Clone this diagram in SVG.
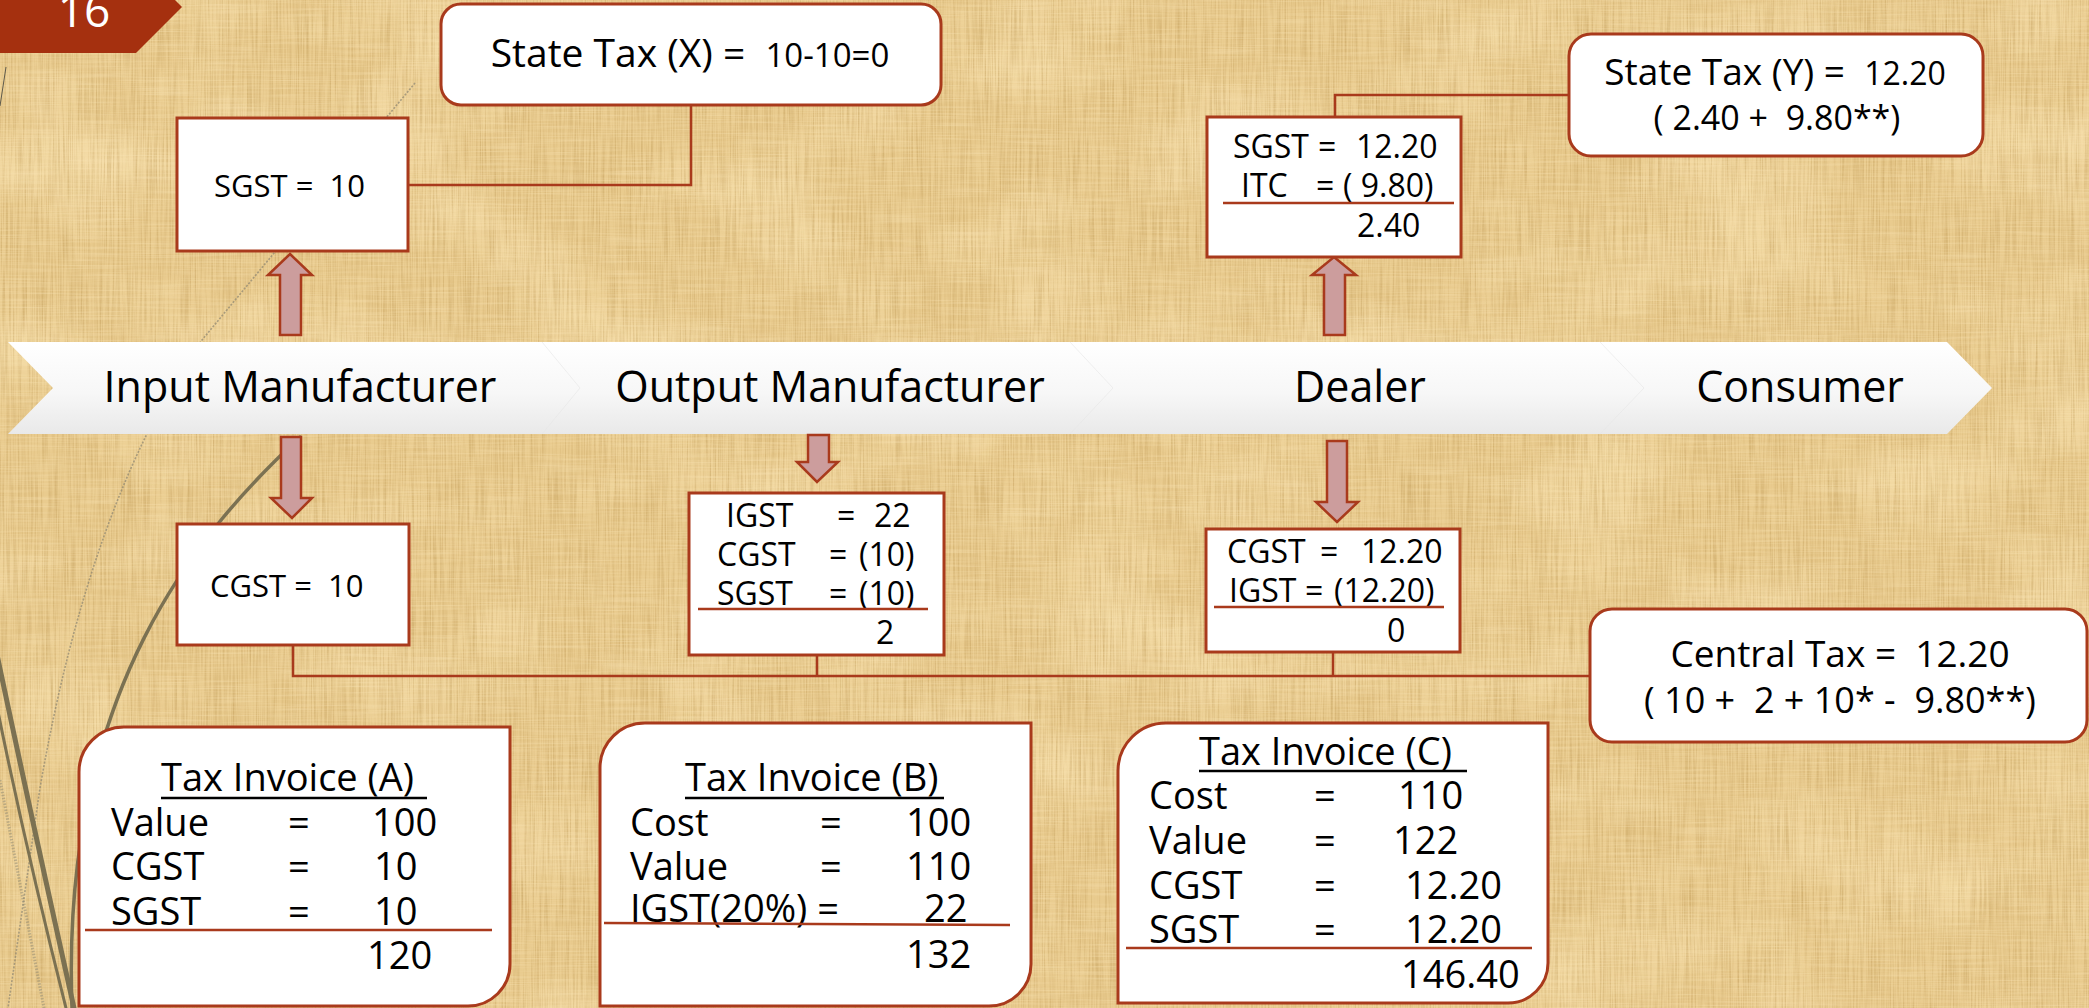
<svg xmlns="http://www.w3.org/2000/svg" width="2089" height="1008" viewBox="0 0 2089 1008" xml:space="preserve">
  <defs>
    <style>
      .t { font-family: "Open Sans", "Liberation Sans", sans-serif; fill: #000; white-space: pre; }
      .box { fill: #fff; stroke: #A93A1C; stroke-width: 3; }
      .conn { fill: none; stroke: #A93A1C; stroke-width: 2.5; }
      .rule { stroke: #A93A1C; stroke-width: 2.5; }
      .uline { stroke: #000; stroke-width: 2.5; }
      .arrow { fill: #CC9D9D; stroke: #A93A1C; stroke-width: 2.5; stroke-linejoin: miter; }
      .sep { fill: none; stroke: #E6E6E6; stroke-width: 1; opacity: 0.6; }
      .wisp { fill: none; stroke: #7B7152; stroke-linecap: round; }
    </style>
    <linearGradient id="bannerFill" x1="0" y1="0" x2="0" y2="1">
      <stop offset="0" stop-color="#FFFFFF"/>
      <stop offset="0.55" stop-color="#F7F7F7"/>
      <stop offset="1" stop-color="#E9E9E9"/>
    </linearGradient>
    <!-- woven papyrus texture: vertical and horizontal fibres plus soft blotches -->
    <filter id="fibreV" x="0" y="0" width="100%" height="100%" color-interpolation-filters="sRGB">
      <feTurbulence type="fractalNoise" baseFrequency="0.6 0.015" numOctaves="2" seed="4"/>
      <feColorMatrix type="matrix" values="0 0 0 0 0.66  0 0 0 0 0.50  0 0 0 0 0.22  1.6 0 0 0 -0.64"/>
    </filter>
    <filter id="fibreH" x="0" y="0" width="100%" height="100%" color-interpolation-filters="sRGB">
      <feTurbulence type="fractalNoise" baseFrequency="0.015 0.6" numOctaves="2" seed="9"/>
      <feColorMatrix type="matrix" values="0 0 0 0 0.98  0 0 0 0 0.90  0 0 0 0 0.72  1.6 0 0 0 -0.62"/>
    </filter>
    <filter id="blotch" x="0" y="0" width="100%" height="100%" color-interpolation-filters="sRGB">
      <feTurbulence type="fractalNoise" baseFrequency="0.006 0.01" numOctaves="3" seed="2"/>
      <feColorMatrix type="matrix" values="0 0 0 0 0.97  0 0 0 0 0.88  0 0 0 0 0.68  2.2 0 0 0 -0.95"/>
    </filter>
  </defs>

  <!-- background -->
  <g id="background">
    <rect width="2089" height="1008" fill="#E9CB8E"/>
    <rect width="2089" height="1008" filter="url(#blotch)" opacity="0.8"/>
    <rect width="2089" height="1008" filter="url(#fibreV)" opacity="0.45"/>
    <rect width="2089" height="1008" filter="url(#fibreH)" opacity="0.5"/>
  </g>

  <!-- decorative wisps at the left edge -->
  <g id="wisps">
    <path d="M6,67 L0,106" fill="none" stroke="#5E5A4C" stroke-width="1"/>
    <path d="M415,83 L202,340 Q90,500 40,788 L8,1008" fill="none" stroke="#8C8570" stroke-width="1.6" stroke-dasharray="2 1.5" opacity="0.7"/>
    <path class="wisp" d="M300,437 C200,530 60,690 72,1008" stroke-width="3.5"/>
    <path class="wisp" d="M-4,650 Q32,820 74,1008" stroke-width="5"/>
    <path class="wisp" d="M-4,702 Q26,850 66,1008" stroke-width="3"/>
    <path d="M0,780 L44,1008" fill="none" stroke="#8C8570" stroke-width="3" stroke-dasharray="1.5 1.5" opacity="0.5"/>
  </g>

  <!-- slide number badge -->
  <g id="badge">
    <polygon points="0,-39 136,-39 182,7 136,53 0,53" fill="#A5300F"/>
    <text class="t" x="84" y="27" font-size="46" text-anchor="middle" style="fill:#fff">16</text>
  </g>

  <!-- supply chain banner -->
  <g id="banner">
    <polygon points="8,342 1947,342 1992,388 1947,434 8,434 53,388" fill="url(#bannerFill)"/>
    <polyline class="sep" points="542,342 580,388 542,434"/>
    <polyline class="sep" points="1070,342 1113,388 1070,434"/>
    <polyline class="sep" points="1600,342 1644,388 1600,434"/>
    <text class="t" x="300" y="402" font-size="43" text-anchor="middle">Input Manufacturer</text>
    <text class="t" x="830" y="402" font-size="43" text-anchor="middle">Output Manufacturer</text>
    <text class="t" x="1360" y="402" font-size="43" text-anchor="middle">Dealer</text>
    <text class="t" x="1800" y="402" font-size="43" text-anchor="middle">Consumer</text>
  </g>

  <!-- connectors -->
  <g id="connectors">
    <polyline class="conn" points="408,185 691,185 691,105"/>
    <polyline class="conn" points="1335,117 1335,95 1569,95"/>
    <polyline class="conn" points="293,645 293,676 1590,676"/>
    <line class="conn" x1="817" y1="655" x2="817" y2="676"/>
    <line class="conn" x1="1333" y1="652" x2="1333" y2="676"/>
  </g>

  <!-- block arrows between banner and tax boxes -->
  <g id="arrows">
    <polygon class="arrow" points="290,254 312,275 301,275 301,335 280,335 280,275 268,275"/>
    <polygon class="arrow" points="1334,257 1356,275 1345,275 1345,335 1324,335 1324,275 1312,275"/>
    <polygon class="arrow" points="281,437 301,437 301,498 312,498 292,518 271,498 281,498"/>
    <polygon class="arrow" points="808,435 829,435 829,462 838,462 817,482 797,462 808,462"/>
    <polygon class="arrow" points="1327,441 1347,441 1347,502 1358,502 1337,522 1316,502 1327,502"/>
  </g>

  <!-- state tax summary (X) -->
  <g id="state-tax-x">
    <rect class="box" x="441" y="4" width="500" height="101" rx="20"/>
    <text class="t" x="690" y="67" font-size="39" text-anchor="middle">State Tax (X) =  <tspan font-size="33">10-10=0</tspan></text>
  </g>

  <!-- input manufacturer SGST -->
  <g id="input-sgst">
    <rect class="box" x="177" y="118" width="231" height="133"/>
    <text class="t" x="214" y="197" font-size="31">SGST =  10</text>
  </g>

  <!-- input manufacturer CGST -->
  <g id="input-cgst">
    <rect class="box" x="177" y="524" width="232" height="121"/>
    <text class="t" x="210" y="597" font-size="31">CGST =  10</text>
  </g>

  <!-- output manufacturer IGST set-off -->
  <g id="output-igst">
    <rect class="box" x="689" y="493" width="255" height="162"/>
    <text class="t" x="726" y="527" font-size="32">IGST</text>
    <text class="t" x="837" y="527" font-size="32">=</text>
    <text class="t" x="874" y="527" font-size="32">22</text>
    <text class="t" x="717" y="566" font-size="32">CGST</text>
    <text class="t" x="829" y="566" font-size="32">=</text>
    <text class="t" x="859" y="566" font-size="32">(10)</text>
    <text class="t" x="717" y="605" font-size="32">SGST</text>
    <text class="t" x="829" y="605" font-size="32">=</text>
    <text class="t" x="859" y="605" font-size="32">(10)</text>
    <line class="rule" x1="698" y1="609" x2="928" y2="609"/>
    <text class="t" x="876" y="644" font-size="32">2</text>
  </g>

  <!-- dealer SGST -->
  <g id="dealer-sgst">
    <rect class="box" x="1207" y="117" width="254" height="140"/>
    <text class="t" x="1233" y="158" font-size="32">SGST</text>
    <text class="t" x="1318" y="158" font-size="32">=</text>
    <text class="t" x="1356" y="158" font-size="32">12.20</text>
    <text class="t" x="1241" y="197" font-size="32">ITC</text>
    <text class="t" x="1316" y="197" font-size="32">=</text>
    <text class="t" x="1343" y="197" font-size="32">( 9.80)</text>
    <line class="rule" x1="1223" y1="203" x2="1454" y2="203"/>
    <text class="t" x="1357" y="237" font-size="32">2.40</text>
  </g>

  <!-- dealer CGST -->
  <g id="dealer-cgst">
    <rect class="box" x="1206" y="529" width="254" height="123"/>
    <text class="t" x="1227" y="563" font-size="32">CGST</text>
    <text class="t" x="1320" y="563" font-size="32">=</text>
    <text class="t" x="1361" y="563" font-size="32">12.20</text>
    <text class="t" x="1229" y="602" font-size="32">IGST</text>
    <text class="t" x="1305" y="602" font-size="32">=</text>
    <text class="t" x="1334" y="602" font-size="32">(12.20)</text>
    <line class="rule" x1="1214" y1="607" x2="1444" y2="607"/>
    <text class="t" x="1387" y="642" font-size="32">0</text>
  </g>

  <!-- state tax summary (Y) -->
  <g id="state-tax-y">
    <rect class="box" x="1569" y="34" width="414" height="122" rx="22"/>
    <text class="t" x="1775" y="85" font-size="37" text-anchor="middle">State Tax (Y) =  <tspan font-size="32">12.20</tspan></text>
    <text class="t" x="1777" y="130" font-size="34" text-anchor="middle">( 2.40 +  9.80**)</text>
  </g>

  <!-- central tax summary -->
  <g id="central-tax">
    <rect class="box" x="1590" y="609" width="497" height="133" rx="22"/>
    <text class="t" x="1840" y="667" font-size="37" text-anchor="middle">Central Tax =  12.20</text>
    <text class="t" x="1840" y="713" font-size="36" text-anchor="middle">( 10 +  2 + 10* -  9.80**)</text>
  </g>

  <!-- tax invoice A -->
  <g id="invoice-a">
    <path class="box" d="M79,772 A45,45 0 0 1 124,727 L510,727 L510,964 A42,42 0 0 1 468,1006 L79,1006 Z"/>
    <text class="t" x="161" y="791" font-size="38">Tax Invoice (A)</text>
    <line class="uline" x1="161" y1="798" x2="427" y2="798"/>
    <text class="t" x="111" y="836" font-size="38">Value</text>
    <text class="t" x="288" y="836" font-size="38">=</text>
    <text class="t" x="372" y="836" font-size="38">100</text>
    <text class="t" x="111" y="880" font-size="38">CGST</text>
    <text class="t" x="288" y="880" font-size="38">=</text>
    <text class="t" x="374" y="880" font-size="38">10</text>
    <text class="t" x="111" y="925" font-size="38">SGST</text>
    <text class="t" x="288" y="925" font-size="38">=</text>
    <text class="t" x="374" y="925" font-size="38">10</text>
    <line class="rule" x1="85" y1="930" x2="492" y2="930"/>
    <text class="t" x="367" y="969" font-size="38">120</text>
  </g>

  <!-- tax invoice B -->
  <g id="invoice-b">
    <path class="box" d="M600,768 A45,45 0 0 1 645,723 L1031,723 L1031,964 A42,42 0 0 1 989,1006 L600,1006 Z"/>
    <text class="t" x="685" y="791" font-size="38">Tax Invoice (B)</text>
    <line class="uline" x1="685" y1="798" x2="944" y2="798"/>
    <text class="t" x="630" y="836" font-size="38">Cost</text>
    <text class="t" x="820" y="836" font-size="38">=</text>
    <text class="t" x="906" y="836" font-size="38">100</text>
    <text class="t" x="630" y="880" font-size="38">Value</text>
    <text class="t" x="820" y="880" font-size="38">=</text>
    <text class="t" x="906" y="880" font-size="38">110</text>
    <text class="t" x="630" y="922" font-size="38">IGST(20%) =</text>
    <text class="t" x="924" y="922" font-size="38">22</text>
    <line class="rule" x1="604" y1="923" x2="1010" y2="925"/>
    <text class="t" x="906" y="968" font-size="38">132</text>
  </g>

  <!-- tax invoice C -->
  <g id="invoice-c">
    <path class="box" d="M1118,771 A48,48 0 0 1 1166,723 L1548,723 L1548,963 A40,40 0 0 1 1508,1003 L1118,1003 Z"/>
    <text class="t" x="1199" y="765" font-size="38">Tax Invoice (C)</text>
    <line class="uline" x1="1199" y1="771" x2="1467" y2="771"/>
    <text class="t" x="1149" y="809" font-size="38">Cost</text>
    <text class="t" x="1314" y="809" font-size="38">=</text>
    <text class="t" x="1398" y="809" font-size="38">110</text>
    <text class="t" x="1149" y="854" font-size="38">Value</text>
    <text class="t" x="1314" y="854" font-size="38">=</text>
    <text class="t" x="1393" y="854" font-size="38">122</text>
    <text class="t" x="1149" y="899" font-size="38">CGST</text>
    <text class="t" x="1314" y="899" font-size="38">=</text>
    <text class="t" x="1405" y="899" font-size="38">12.20</text>
    <text class="t" x="1149" y="943" font-size="38">SGST</text>
    <text class="t" x="1314" y="943" font-size="38">=</text>
    <text class="t" x="1405" y="943" font-size="38">12.20</text>
    <line class="rule" x1="1126" y1="948" x2="1532" y2="948"/>
    <text class="t" x="1401" y="988" font-size="38">146.40</text>
  </g>
</svg>
